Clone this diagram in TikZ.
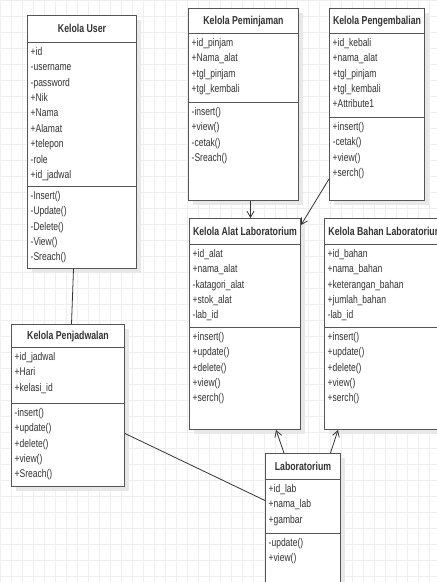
\documentclass[tikz,border=0pt]{standalone}
\usepackage{fontspec}
\setmainfont{Liberation Sans}[FakeStretch=0.76]
\usepackage{tikz}
\usetikzlibrary{arrows.meta,shadows}
\definecolor{umlgray}{HTML}{555555}
\definecolor{umlink}{HTML}{333333}
\definecolor{gridgray}{HTML}{EFEFEF}

\begin{document}
\begin{tikzpicture}[
    umlclass/.style={draw=umlgray,line width=1bp,fill=white,anchor=north west,inner sep=0pt,
      drop shadow={shadow xshift=4bp,shadow yshift=-4bp,fill=black!9,opacity=1}},
    umltitle/.style={font=\bfseries\fontsize{11.5bp}{14bp}\selectfont,text=umlink,inner sep=0pt,text height=8bp,text depth=0pt},
    umlsep/.style={draw=umlgray,line width=1bp},
    umltext/.style={font=\fontsize{11.2bp}{15.4bp}\selectfont,text=umlink,anchor=north west,inner sep=0pt,align=left},
    umlline/.style={draw=umlink,line width=0.8bp},
    umlarrow/.style={umlline,-{Straight Barb[length=6bp,width=7bp]}}]

    \useasboundingbox (0,0) rectangle (437bp,-582bp);
    \clip (0,0) rectangle (437bp,-582bp);
    \fill [white] (0,0) rectangle (437bp,-582bp);
    \draw [gridgray,line width=0.6bp,xstep=11bp,ystep=16bp] (0,0) grid (437bp,-582bp);

    % Kelola User
    \node (user) at (27bp,-15bp) [umlclass,minimum width=109bp,minimum height=253bp] {};
    \node at ([yshift=-13.5bp]user.north) [umltitle] {Kelola User};
    \draw [umlsep] ([yshift=-27bp]user.north west) -- ([yshift=-27bp]user.north east);
    \draw [umlsep] ([yshift=-171bp]user.north west) -- ([yshift=-171bp]user.north east);
    \node at ([shift={(3.5bp,-32bp)}]user.north west) [umltext] {+id\\-username\\-password\\+Nik\\+Nama\\+Alamat\\+telepon\\-role\\+id\_jadwal};
    \node at ([shift={(3.5bp,-176bp)}]user.north west) [umltext] {-Insert()\\-Update()\\-Delete()\\-View()\\-Sreach()};

    % Kelola Peminjaman
    \node (pinjam) at (188bp,-8bp) [umlclass,minimum width=110bp,minimum height=192bp] {};
    \node at ([yshift=-12.5bp]pinjam.north) [umltitle] {Kelola Peminjaman};
    \draw [umlsep] ([yshift=-25bp]pinjam.north west) -- ([yshift=-25bp]pinjam.north east);
    \draw [umlsep] ([yshift=-94bp]pinjam.north west) -- ([yshift=-94bp]pinjam.north east);
    \node at ([shift={(3.5bp,-30bp)}]pinjam.north west) [umltext] {+id\_pinjam\\+Nama\_alat\\+tgl\_pinjam\\+tgl\_kembali};
    \node at ([shift={(3.5bp,-99bp)}]pinjam.north west) [umltext] {-insert()\\+view()\\-cetak()\\-Sreach()};

    % Kelola Pengembalian
    \node (kembali) at (329bp,-8bp) [umlclass,minimum width=95bp,minimum height=192bp] {};
    \node at ([yshift=-12.5bp]kembali.north) [umltitle] {Kelola Pengembalian};
    \draw [umlsep] ([yshift=-25bp]kembali.north west) -- ([yshift=-25bp]kembali.north east);
    \draw [umlsep] ([yshift=-109bp]kembali.north west) -- ([yshift=-109bp]kembali.north east);
    \node at ([shift={(3.5bp,-30bp)}]kembali.north west) [umltext] {+id\_kebali\\+nama\_alat\\+tgl\_pinjam\\+tgl\_kembali\\+Attribute1};
    \node at ([shift={(3.5bp,-114bp)}]kembali.north west) [umltext] {+insert()\\-cetak()\\+view()\\+serch()};

    % Kelola Alat Laboratorium
    \node (alat) at (189bp,-218bp) [umlclass,minimum width=111bp,minimum height=211bp] {};
    \node at ([yshift=-13bp]alat.north) [umltitle] {Kelola Alat Laboratorium};
    \draw [umlsep] ([yshift=-26bp]alat.north west) -- ([yshift=-26bp]alat.north east);
    \draw [umlsep] ([yshift=-109bp]alat.north west) -- ([yshift=-109bp]alat.north east);
    \node at ([shift={(3.5bp,-31bp)}]alat.north west) [umltext] {+id\_alat\\+nama\_alat\\-katagori\_alat\\+stok\_alat\\-lab\_id};
    \node at ([shift={(3.5bp,-114bp)}]alat.north west) [umltext] {+insert()\\+update()\\+delete()\\+view()\\+serch()};

    % Kelola Bahan Laboratorium
    \node (bahan) at (324bp,-218bp) [umlclass,minimum width=122bp,minimum height=211bp] {};
    \node at ([yshift=-13bp]bahan.north) [umltitle] {Kelola Bahan Laboratorium};
    \draw [umlsep] ([yshift=-26bp]bahan.north west) -- ([yshift=-26bp]bahan.north east);
    \draw [umlsep] ([yshift=-109bp]bahan.north west) -- ([yshift=-109bp]bahan.north east);
    \node at ([shift={(3.5bp,-31bp)}]bahan.north west) [umltext] {+id\_bahan\\+nama\_bahan\\+keterangan\_bahan\\+jumlah\_bahan\\-lab\_id};
    \node at ([shift={(3.5bp,-114bp)}]bahan.north west) [umltext] {+insert()\\+update()\\+delete()\\+view()\\+serch()};

    % Kelola Penjadwalan
    \node (jadwal) at (11bp,-324bp) [umlclass,minimum width=113bp,minimum height=162bp] {};
    \node at ([yshift=-11.5bp]jadwal.north) [umltitle] {Kelola Penjadwalan};
    \draw [umlsep] ([yshift=-23bp]jadwal.north west) -- ([yshift=-23bp]jadwal.north east);
    \draw [umlsep] ([yshift=-79bp]jadwal.north west) -- ([yshift=-79bp]jadwal.north east);
    \node at ([shift={(3.5bp,-28bp)}]jadwal.north west) [umltext] {+id\_jadwal\\+Hari\\+kelasi\_id};
    \node at ([shift={(3.5bp,-84bp)}]jadwal.north west) [umltext] {-insert()\\+update()\\+delete()\\+view()\\+Sreach()};

    % Laboratorium
    \node (lab) at (265bp,-453bp) [umlclass,minimum width=75bp,minimum height=140bp] {};
    \node at ([yshift=-13bp]lab.north) [umltitle] {Laboratorium};
    \draw [umlsep] ([yshift=-26bp]lab.north west) -- ([yshift=-26bp]lab.north east);
    \draw [umlsep] ([yshift=-80bp]lab.north west) -- ([yshift=-80bp]lab.north east);
    \node at ([shift={(3.5bp,-31bp)}]lab.north west) [umltext] {+id\_lab\\+nama\_lab\\+gambar};
    \node at ([shift={(3.5bp,-85bp)}]lab.north west) [umltext] {-update()\\+view()};

    % relations
    \draw [umlline] ([xshift=-8.5bp]user.south) -- ([xshift=3.5bp]jadwal.north);
    \draw [umlarrow] ([xshift=7bp]pinjam.south) -- ([xshift=5.5bp]alat.north);
    \draw [umlarrow] ([yshift=22bp]kembali.south west) -- ([yshift=-7bp]alat.north east);
    \draw [umlarrow] ([xshift=-19bp]lab.north) -- ([xshift=31bp]alat.south);
    \draw [umlarrow] ([xshift=27.5bp]lab.north) -- ([xshift=14bp]bahan.south west);
    \draw [umlline] ([yshift=-28bp]jadwal.east) -- ([yshift=23bp]lab.west);
\end{tikzpicture}
\end{document}
